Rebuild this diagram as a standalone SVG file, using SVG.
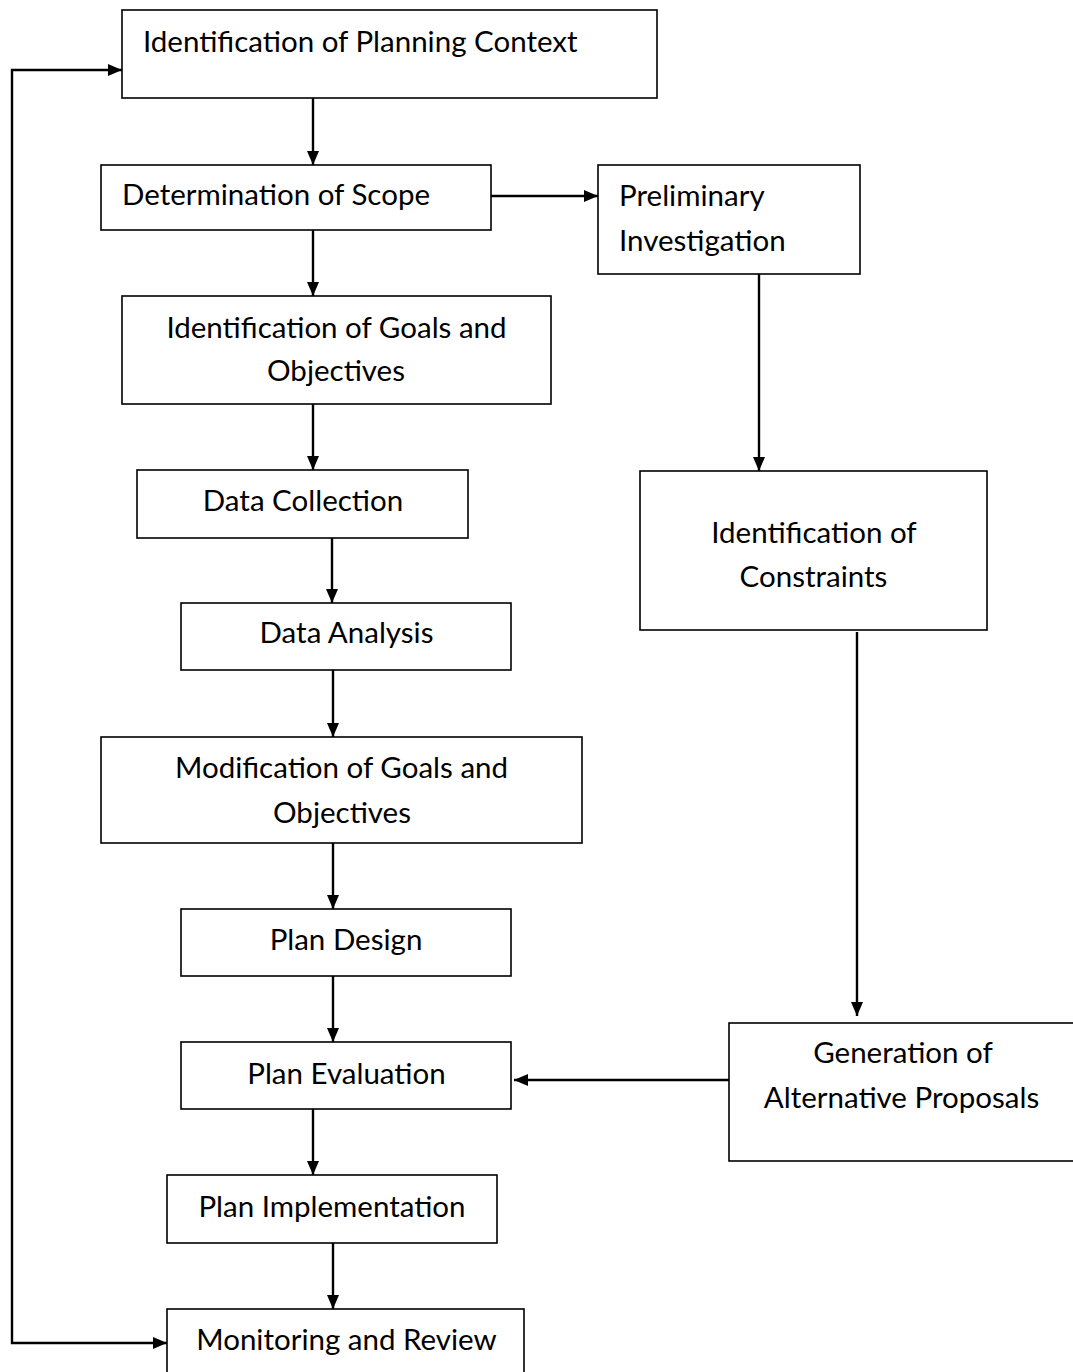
<svg xmlns="http://www.w3.org/2000/svg" width="1073" height="1372" viewBox="0 0 1073 1372">
<defs>
<marker id="ah" viewBox="0 0 14 12" refX="14" refY="6" markerWidth="14" markerHeight="12" markerUnits="userSpaceOnUse" orient="auto-start-reverse">
<path d="M0,0 L14,6 L0,12 z" fill="#000"/>
</marker>
<style>
.b{fill:#fff;stroke:#000;stroke-width:1.6}
.t{font-family:Lato,"Open Sans",sans-serif;font-size:29.5px;fill:#000}
.m{text-anchor:middle}
.c{fill:none;stroke:#000;stroke-width:2.4}
</style>
</defs>
<rect width="1073" height="1372" fill="#fff"/>
<g id="connectors">
<path class="c" d="M313,98 V165" marker-end="url(#ah)"/>
<path class="c" d="M313,230 V296" marker-end="url(#ah)"/>
<path class="c" d="M313,404 V470" marker-end="url(#ah)"/>
<path class="c" d="M332,538 V603" marker-end="url(#ah)"/>
<path class="c" d="M333,670 V737" marker-end="url(#ah)"/>
<path class="c" d="M333,843 V909" marker-end="url(#ah)"/>
<path class="c" d="M333,976 V1042" marker-end="url(#ah)"/>
<path class="c" d="M313,1109 V1175" marker-end="url(#ah)"/>
<path class="c" d="M333,1243 V1309" marker-end="url(#ah)"/>
<path class="c" d="M487,196 H598" marker-end="url(#ah)"/>
<path class="c" d="M759,274 V471" marker-end="url(#ah)"/>
<path class="c" d="M857,632 V1016" marker-end="url(#ah)"/>
<path class="c" d="M729,1080 H514" marker-end="url(#ah)"/>
<path class="c" d="M167,1343 H12 V70 H122" marker-start="url(#ah)" marker-end="url(#ah)"/>
</g>
<g id="n1"><rect class="b" x="122" y="10" width="535" height="88"/><text class="t" x="143" y="52">Identification of Planning Context</text></g>
<g id="n2"><rect class="b" x="101" y="165" width="390" height="65"/><text class="t" x="122" y="205">Determination of Scope</text></g>
<g id="n3"><rect class="b" x="598" y="165" width="262" height="109"/><text class="t" x="619" y="206">Preliminary</text><text class="t" x="619" y="251">Investigation</text></g>
<g id="n4"><rect class="b" x="122" y="296" width="429" height="108"/><text class="t m" x="336.5" y="338">Identification of Goals and</text><text class="t m" x="336" y="381">Objectives</text></g>
<g id="n5"><rect class="b" x="137" y="470" width="331" height="68"/><text class="t m" x="303" y="511">Data Collection</text></g>
<g id="n6"><rect class="b" x="181" y="603" width="330" height="67"/><text class="t m" x="346.5" y="643">Data Analysis</text></g>
<g id="n7"><rect class="b" x="640" y="471" width="347" height="159"/><text class="t m" x="814" y="543">Identification of</text><text class="t m" x="813.5" y="587">Constraints</text></g>
<g id="n8"><rect class="b" x="101" y="737" width="481" height="106"/><text class="t m" x="341.5" y="778">Modification of Goals and</text><text class="t m" x="342" y="823">Objectives</text></g>
<g id="n9"><rect class="b" x="181" y="909" width="330" height="67"/><text class="t m" x="346" y="950">Plan Design</text></g>
<g id="n10"><rect class="b" x="181" y="1042" width="330" height="67"/><text class="t m" x="346.5" y="1084">Plan Evaluation</text></g>
<g id="n11"><rect class="b" x="729" y="1023" width="350" height="138"/><text class="t m" x="903" y="1063">Generation of</text><text class="t m" x="901.5" y="1108">Alternative Proposals</text></g>
<g id="n12"><rect class="b" x="167" y="1175" width="330" height="68"/><text class="t m" x="332" y="1217">Plan Implementation</text></g>
<g id="n13"><rect class="b" x="167" y="1309" width="357" height="80"/><text class="t m" x="346.5" y="1350">Monitoring and Review</text></g>
</svg>
